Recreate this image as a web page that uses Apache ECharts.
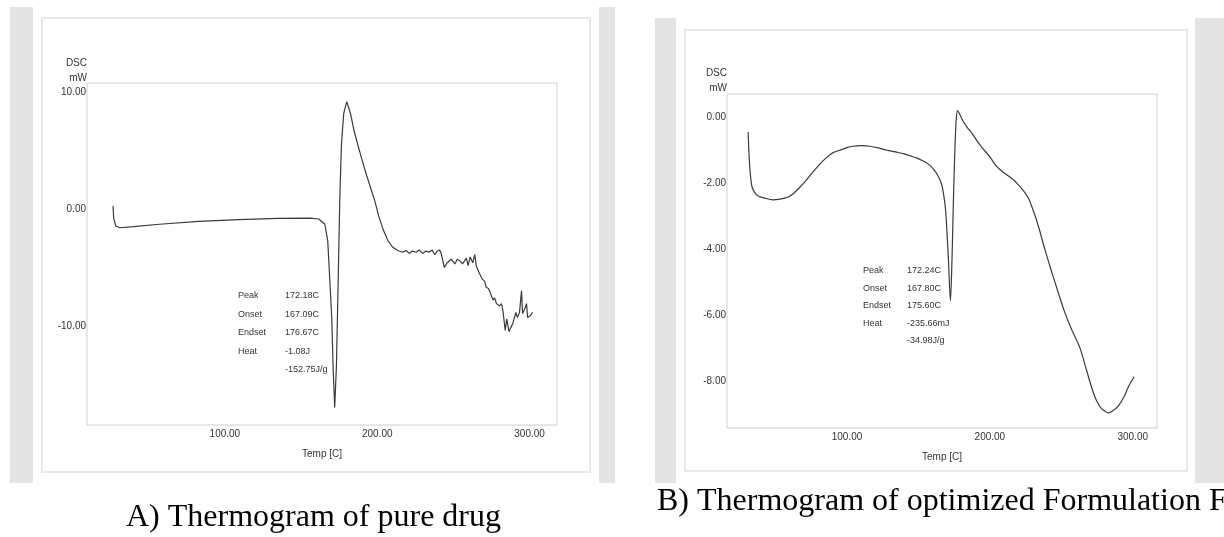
<!DOCTYPE html>
<html>
<head>
<meta charset="utf-8">
<title>DSC thermograms</title>
<script src="https://cdn.jsdelivr.net/npm/echarts@6/dist/echarts.min.js"></script>
<style>
  html, body { margin: 0; padding: 0; background: #fff; }
  #chart { width: 1224px; height: 537px; }
</style>
</head>
<body>
<div id="chart"></div>
<script>
// A) pure drug
const tempA = [26.6, 27, 28.4, 31, 40, 57, 83, 109, 135, 156, 161.6, 165.6, 167.5, 169, 170.2, 171.1, 172.1, 173.2, 174.4, 175.4, 176.5, 178, 180,
  182.6, 185, 187.9, 190.5, 193, 195.7, 198.4, 201, 204, 207, 210, 213.5, 216.7, 219, 221, 223, 225.6, 227.5, 229.8, 232, 234, 236, 237.7,
  239.5, 241, 242, 244, 246, 248.5, 251, 252.5, 254, 256, 258.5, 259.7, 261, 262.7, 264, 265, 267, 269, 270.5, 271.5, 273, 274, 276,
  277, 278.3, 280.3, 281.5, 282.5, 284, 285, 285.6, 286.5, 287.5, 289, 291, 292, 293.4, 294.7, 295.4, 297, 298, 298.7, 300.7, 302];
const dscA = [0.26, -0.77, -1.45, -1.6, -1.5, -1.3, -1.05, -0.9, -0.8, -0.77, -0.85, -1.3, -2.7, -6.4, -9.5, -13.8, -17.0, -13.5, -6, 0.7, 5.5, 8.2, 9.2,
  8.1, 6.6, 5.2, 4.0, 2.9, 1.8, 0.7, -0.6, -1.8, -2.7, -3.25, -3.55, -3.7, -3.55, -3.8, -3.6, -3.7, -3.5, -3.8, -3.6, -3.7, -3.5, -3.9,
  -3.6, -3.5, -3.8, -5.0, -4.6, -4.3, -4.7, -4.3, -4.4, -4.7, -4.2, -4.85, -4.1, -4.6, -3.9, -4.85, -5.5, -6.0, -6.2, -6.7, -6.8, -7.1, -7.8,
  -7.6, -8.1, -8.3, -8.1, -8.7, -10.4, -9.4, -9.3, -10.5, -10.2, -9.8, -8.85, -9.3, -8.85, -7.0, -8.95, -8.5, -8.1, -9.3, -9.1, -8.85];

// B) optimized formulation
const tempB = [30.8, 31.5, 32.5, 33.6, 35.7, 38.5, 42.7, 48, 53, 57, 60, 64, 67, 72, 76, 81, 86, 90, 95, 100, 104, 110, 116, 122, 128, 134,
  140.6, 145, 149, 153, 157, 160, 163, 166, 167.5, 169, 170, 171, 172.4, 173.5, 174.5, 175.5, 176.4, 177.4, 179, 181, 184, 188, 192, 196,
  200, 204, 208, 212, 216, 219, 223, 227, 231, 235, 238.5, 242, 246, 252, 257, 263, 268, 273, 277, 280, 283, 286, 290, 294, 297, 301];
const dscB = [-0.45, -1.2, -1.8, -2.12, -2.3, -2.4, -2.45, -2.5, -2.48, -2.44, -2.39, -2.25, -2.12, -1.88, -1.67, -1.42, -1.21, -1.08, -1.0, -0.92, -0.88, -0.86, -0.88, -0.93, -1.0, -1.05,
  -1.12, -1.18, -1.24, -1.32, -1.42, -1.55, -1.72, -2.0, -2.3, -2.8, -3.5, -4.3, -5.55, -4.3, -2.5, -1.0, -0.1, 0.2, 0.08, -0.1, -0.3, -0.52, -0.78, -1.0,
  -1.2, -1.45, -1.62, -1.75, -1.88, -2.0, -2.2, -2.45, -2.9, -3.45, -4.0, -4.5, -5.05, -5.85, -6.4, -6.97, -7.7, -8.4, -8.75, -8.88, -8.94, -8.88, -8.73, -8.45, -8.15, -7.85];

const tempTicks = [100, 200, 300];
const dscTicksA = [-10, 0, 10];
const dscTicksB = [-8, -6, -4, -2, 0];

const infoKeys = ['Peak', 'Onset', 'Endset', 'Heat', ''];
const infoA = ['172.18C', '167.09C', '176.67C', '-1.08J', '-152.75J/g'];
const infoB = ['172.24C', '167.80C', '175.60C', '-235.66mJ', '-34.98J/g'];

const smallFont = '"Liberation Sans Narrow", "Liberation Sans", Arial, sans-serif';
const captionFont = '"Liberation Serif", "Times New Roman", serif';
const lineColor = '#3a3a3a';

const zip = (xs, ys) => xs.map((x, i) => [x, ys[i]]);

function infoBlock(keys, vals, x0, x1, y0, step) {
  const els = [];
  keys.forEach((k, i) => {
    const y = y0 + i * step;
    if (k) {
      els.push({ type: 'text', x: x0, y: y, style: { text: k, font: '9px ' + smallFont, fill: '#333', verticalAlign: 'middle' } });
    }
    els.push({ type: 'text', x: x1, y: y, style: { text: vals[i], font: '9px ' + smallFont, fill: '#333', verticalAlign: 'middle' } });
  });
  return els;
}

function valueAxis(gridIndex, min, max, ticks, name, nameGap) {
  return {
    type: 'value',
    gridIndex: gridIndex,
    min: min,
    max: max,
    name: name,
    nameGap: nameGap,
    nameTextStyle: { align: 'right', color: '#333', fontSize: 10, lineHeight: 15, fontFamily: smallFont, padding: [0, 0, 0, 0] },
    axisLine: { show: false },
    axisTick: { show: false },
    splitLine: { show: false },
    axisLabel: {
      customValues: ticks,
      margin: 1,
      color: '#333',
      fontSize: 10,
      fontFamily: smallFont,
      formatter: (v) => v.toFixed(2),
    },
  };
}

function tempAxis(gridIndex, min, max) {
  return {
    type: 'value',
    gridIndex: gridIndex,
    min: min,
    max: max,
    name: 'Temp [C]',
    nameLocation: 'middle',
    nameGap: 24,
    nameTextStyle: { color: '#333', fontSize: 10, fontFamily: smallFont },
    axisLine: { show: false },
    axisTick: { show: false },
    splitLine: { show: false },
    axisLabel: {
      customValues: tempTicks,
      margin: 4,
      color: '#333',
      fontSize: 10,
      fontFamily: smallFont,
      formatter: (v) => v.toFixed(2),
    },
  };
}

const chart = echarts.init(document.getElementById('chart'), null, { renderer: 'canvas' });

const option = {
  animation: false,
  backgroundColor: '#fff',
  grid: [
    { left: 87, top: 83, width: 470, height: 342, show: true, borderColor: '#cfcfcf', borderWidth: 1, backgroundColor: 'transparent' },
    { left: 727, top: 94, width: 430, height: 334, show: true, borderColor: '#cfcfcf', borderWidth: 1, backgroundColor: 'transparent' },
  ],
  xAxis: [tempAxis(0, 9.5, 318), tempAxis(1, 16, 317)],
  yAxis: [
    valueAxis(0, -18.5, 10.8, dscTicksA, 'DSC\nmW', -3),
    valueAxis(1, -9.4, 0.7, dscTicksB, 'DSC\nmW', -2),
  ],
  series: [
    {
      type: 'line',
      xAxisIndex: 0,
      yAxisIndex: 0,
      data: zip(tempA, dscA),
      showSymbol: false,
      smooth: false,
      lineStyle: { color: lineColor, width: 1.2 },
    },
    {
      type: 'line',
      xAxisIndex: 1,
      yAxisIndex: 1,
      data: zip(tempB, dscB),
      showSymbol: false,
      smooth: 0.3,
      lineStyle: { color: lineColor, width: 1.2 },
    },
  ],
  graphic: [
    // gray frames around the two screenshots
    { type: 'rect', z: -10, shape: { x: 10, y: 7, width: 23, height: 476 }, style: { fill: '#e4e4e4' } },
    { type: 'rect', z: -10, shape: { x: 599, y: 7, width: 16, height: 476 }, style: { fill: '#e4e4e4' } },
    { type: 'rect', z: -10, shape: { x: 42, y: 18, width: 548, height: 454 }, style: { fill: '#fff', stroke: '#e8e8e8', lineWidth: 2 } },
    { type: 'rect', z: -10, shape: { x: 655, y: 18, width: 21, height: 465 }, style: { fill: '#e4e4e4' } },
    { type: 'rect', z: -10, shape: { x: 1195, y: 18, width: 29, height: 465 }, style: { fill: '#e4e4e4' } },
    { type: 'rect', z: -10, shape: { x: 685, y: 30, width: 502, height: 441 }, style: { fill: '#fff', stroke: '#e8e8e8', lineWidth: 2 } },
    ...infoBlock(infoKeys, infoA, 238, 285, 296, 18.5),
    ...infoBlock(infoKeys, infoB, 863, 907, 271, 17.5),
    { type: 'text', x: 126, y: 518, style: { text: 'A) Thermogram of pure drug', font: '32px ' + captionFont, fill: '#000', verticalAlign: 'middle' } },
    { type: 'text', x: 657, y: 502, style: { text: 'B) Thermogram of optimized Formulation F', font: '32px ' + captionFont, fill: '#000', verticalAlign: 'middle' } },
  ],
};

chart.setOption(option);
</script>
</body>
</html>
